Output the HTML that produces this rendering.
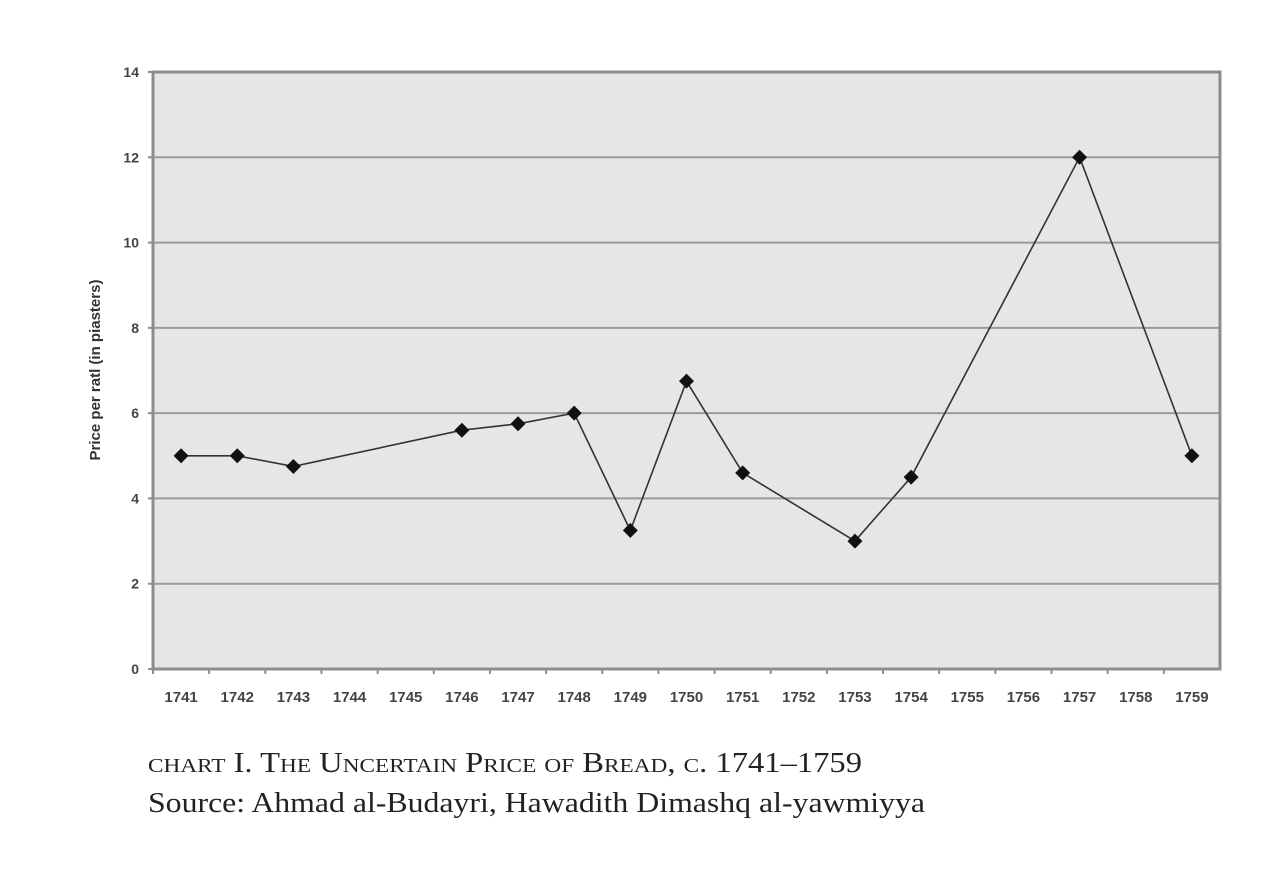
<!DOCTYPE html>
<html><head><meta charset="utf-8"><style>
body{margin:0;background:#fff;width:1286px;height:876px;overflow:hidden}
svg{display:block}
</style></head><body>
<svg width="1286" height="876" xmlns="http://www.w3.org/2000/svg">
<rect x="153" y="72" width="1067" height="597" fill="#e6e6e6"/>
<g id="grid"></g>
<rect x="153" y="72" width="1067" height="597" fill="none" stroke="#8c8c8c" stroke-width="3"/>
<g id="yticks" font-family="Liberation Sans, sans-serif" font-weight="bold" font-size="14" fill="#444" text-anchor="end"></g>
<g id="xticks" font-family="Liberation Sans, sans-serif" font-weight="bold" font-size="15" fill="#444" text-anchor="middle"></g>
<text transform="translate(100,370) rotate(-90)" text-anchor="middle" font-family="Liberation Sans, sans-serif" font-weight="bold" font-size="15" fill="#333">Price per ratl (in piasters)</text>
<g id="series"></g>
<text x="148" y="772" textLength="714" lengthAdjust="spacingAndGlyphs" font-family="Liberation Serif, serif" font-size="28" fill="#222" style="font-variant:small-caps">chart I. The Uncertain Price of Bread, c. 1741–1759</text>
<text x="148" y="812" textLength="777" lengthAdjust="spacingAndGlyphs" font-family="Liberation Serif, serif" font-size="28" fill="#222">Source: Ahmad al-Budayri, Hawadith Dimashq al-yawmiyya</text>
</svg>
<script>
const categories=['1741','1742','1743','1744','1745','1746','1747','1748','1749','1750','1751','1752','1753','1754','1755','1756','1757','1758','1759'];
const pointYears=['1741','1742','1743','1746','1747','1748','1749','1750','1751','1753','1754','1757','1759'];
const pointValues=[5,5,4.75,5.6,5.75,6,3.25,6.75,4.6,3,4.5,12,5];
const yTicks=[0,2,4,6,8,10,12,14];
const NS='http://www.w3.org/2000/svg';
const L=153,R=1220,T=72,B=669,YMAX=14;
const bw=(R-L)/categories.length;
function xs(c){return L+bw*(categories.indexOf(c)+0.5);}
function ys(v){return B-(B-T)*v/YMAX;}
function mk(tag,attrs,parent){const e=document.createElementNS(NS,tag);for(const k in attrs)e.setAttribute(k,attrs[k]);parent.appendChild(e);return e;}
const grid=document.getElementById('grid'),yt=document.getElementById('yticks'),xt=document.getElementById('xticks'),ser=document.getElementById('series');
yTicks.forEach(v=>{
  const y=ys(v);
  if(v>0&&v<YMAX){const g=mk('line',{x1:L,x2:R,y1:y,y2:y,stroke:'#9a9a9a','stroke-width':2},grid);
  
  }
  const tk=mk('line',{x1:L-5,x2:L,y1:y,y2:y,stroke:'#8c8c8c','stroke-width':2},yt);
  
  
  const t=mk('text',{x:L-14,y:y+5},yt);t.textContent=v;
  
  
});
categories.forEach((c,i)=>{
  const x=L+bw*i;
  const tk=mk('line',{x1:x,x2:x,y1:B,y2:B+5,stroke:'#8c8c8c','stroke-width':2},xt);
  
  
  const t=mk('text',{x:xs(c),y:B+33},xt);t.textContent=c;
  
  
});
const pts=pointYears.map((c,i)=>xs(c)+','+ys(pointValues[i])).join(' ');
const pl=mk('polyline',{points:pts,fill:'none',stroke:'#333','stroke-width':1.6},ser);


pointYears.forEach((c,i)=>{
  const x=xs(c),y=ys(pointValues[i]),s=7.5;
  const m=mk('polygon',{points:`${x},${y-s} ${x+s},${y} ${x},${y+s} ${x-s},${y}`,fill:'#111'},ser);
  
  
});
</script>
</body></html>
